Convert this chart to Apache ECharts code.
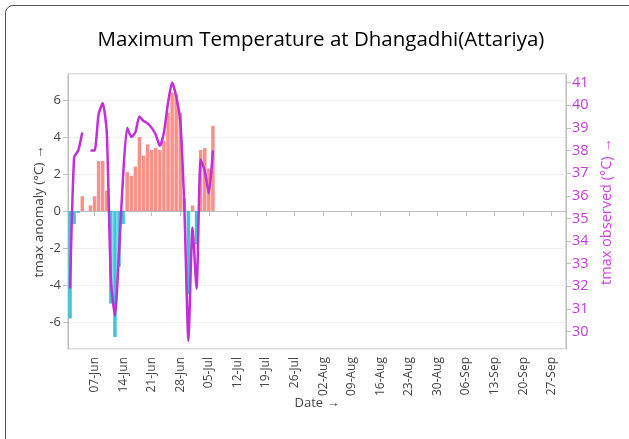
<!DOCTYPE html>
<html>
<head>
<meta charset="utf-8">
<script src="https://cdn.jsdelivr.net/npm/echarts@6/dist/echarts.min.js"></script>
<style>
  html, body { margin: 0; padding: 0; background: #fff; overflow: hidden; }
  .card {
    position: absolute; left: 5px; top: 5px; width: 720px; height: 520px;
    border: 1px solid #555; border-radius: 8px; box-sizing: border-box;
  }
  #chart { position: absolute; left: 0; top: 0; width: 629px; height: 439px; }
</style>
</head>
<body>
<div class="card"></div>
<div id="chart"></div>
<script>
// daily values, 01-Jun to 06-Jul (05-Jun missing)
const dates = [
  '2023-06-01','2023-06-02','2023-06-03','2023-06-04','2023-06-05','2023-06-06',
  '2023-06-07','2023-06-08','2023-06-09','2023-06-10','2023-06-11','2023-06-12',
  '2023-06-13','2023-06-14','2023-06-15','2023-06-16','2023-06-17','2023-06-18',
  '2023-06-19','2023-06-20','2023-06-21','2023-06-22','2023-06-23','2023-06-24',
  '2023-06-25','2023-06-26','2023-06-27','2023-06-28','2023-06-29','2023-06-30',
  '2023-07-01','2023-07-02','2023-07-03','2023-07-04','2023-07-05','2023-07-06'
];
const anomaly = [
  -5.8, -0.7, -0.1, 0.8, null, 0.3,
  0.8, 2.7, 2.7, 1.1, -5.0, -6.8,
  -3.0, -0.7, 2.1, 1.9, 2.4, 4.0,
  3.0, 3.6, 3.3, 3.4, 3.3, 3.8,
  5.3, 6.4, 6.3, 5.3, 0.7, -4.5,
  0.3, -1.8, 3.3, 3.4, 2.3, 4.6
];
const observed = [
  31.9, 37.7, 38.0, 38.8, null, 38.0,
  38.0, 39.6, 40.1, 38.8, 32.3, 30.7,
  33.5, 36.9, 39.0, 38.6, 38.8, 39.5,
  39.3, 39.2, 39.0, 38.7, 38.2, 38.8,
  40.1, 41.0, 40.4, 39.3, 35.5, 29.6,
  34.6, 31.9, 37.6, 37.1, 36.1, 38.0
];
const tickDates = [
  '2023-06-07','2023-06-14','2023-06-21','2023-06-28','2023-07-05','2023-07-12',
  '2023-07-19','2023-07-26','2023-08-02','2023-08-09','2023-08-16','2023-08-23',
  '2023-08-30','2023-09-06','2023-09-13','2023-09-20','2023-09-27'
];

const months = ['Jan','Feb','Mar','Apr','May','Jun','Jul','Aug','Sep','Oct','Nov','Dec'];
function toTime(s) {
  const p = s.split('-');
  return new Date(+p[0], +p[1] - 1, +p[2]).getTime();
}
function fmtDate(v) {
  const d = new Date(v);
  return String(d.getDate()).padStart(2, '0') + '-' + months[d.getMonth()];
}
const tickTimes = tickDates.map(toTime);
const DAY = 86400000;

const salmon = '#f7928b';
const cyan = '#3fc5da';
const purple = '#c12fd6';
const axisGrey = '#bdbdbd';
const textGrey = '#444';
const font = 'Open Sans';

const chart = echarts.init(document.getElementById('chart'));
chart.setOption({
  animation: false,
  textStyle: { fontFamily: font },
  title: {
    text: 'Maximum Temperature at Dhangadhi(Attariya)',
    left: 316, top: 25, textAlign: 'center',
    textStyle: { fontFamily: font, fontSize: 20.5, fontWeight: 500, color: '#000' }
  },
  grid: {
    left: 68, right: 63, top: 74, bottom: 90,
    show: true, borderColor: axisGrey, borderWidth: 1
  },
  xAxis: {
    type: 'value',
    min: toTime('2023-05-31') + DAY / 2,
    max: toTime('2023-09-30') + DAY / 2,
    name: 'Date →',
    nameLocation: 'middle',
    nameGap: 48,
    nameMoveOverlap: false,
    nameTextStyle: { fontFamily: font, fontSize: 13, color: textGrey },
    axisLine: { show: true, lineStyle: { color: axisGrey } },
    axisTick: { show: true, length: 5, lineStyle: { color: axisGrey }, customValues: tickTimes },
    axisLabel: {
      customValues: tickTimes, rotate: 90, color: textGrey, fontSize: 12, fontFamily: font,
      margin: 8, formatter: fmtDate
    },
    splitLine: { show: false }
  },
  yAxis: [
    {
      type: 'value',
      min: -7.45, max: 7.4,
      splitNumber: 7,
      position: 'left',
      name: 'tmax anomaly (°C) →',
      nameLocation: 'middle',
      nameRotate: 90,
      nameGap: 22,
      nameMoveOverlap: false,
      nameTextStyle: { fontFamily: font, fontSize: 13.5, color: textGrey },
      axisLine: { show: true, lineStyle: { color: axisGrey } },
      axisTick: { show: true, length: 5, lineStyle: { color: axisGrey } },
      axisLabel: { color: textGrey, fontSize: 13, fontFamily: font, margin: 7,
        showMinLabel: false, showMaxLabel: false },
      splitLine: { show: true, lineStyle: { color: '#efefef' } }
    },
    {
      type: 'value',
      min: 29.23, max: 41.38,
      splitNumber: 12,
      position: 'right',
      name: 'tmax observed (°C) →',
      nameLocation: 'middle',
      nameRotate: 90,
      nameGap: 33,
      nameTextStyle: { fontFamily: font, fontSize: 14.5, color: '#cc44dd' },
      axisLine: { show: true, lineStyle: { color: axisGrey } },
      axisTick: { show: true, length: 5, lineStyle: { color: axisGrey } },
      axisLabel: { color: '#c23ad8', fontSize: 14.5, fontFamily: font, margin: 6,
        showMinLabel: false, showMaxLabel: false },
      splitLine: { show: false }
    }
  ],
  series: [
    {
      name: 'tmax anomaly',
      type: 'bar',
      yAxisIndex: 0,
      barWidth: 3.5,
      data: dates.map((d, i) => [toTime(d), anomaly[i]]),
      itemStyle: {
        color: p => (p.value[1] >= 0 ? salmon : cyan)
      }
    },
    {
      name: 'tmax observed',
      type: 'line',
      yAxisIndex: 1,
      smooth: 0.2,
      connectNulls: false,
      showSymbol: false,
      lineStyle: { color: purple, width: 2.5 },
      data: dates.map((d, i) => [toTime(d), observed[i]])
    }
  ]
});
</script>
</body>
</html>
